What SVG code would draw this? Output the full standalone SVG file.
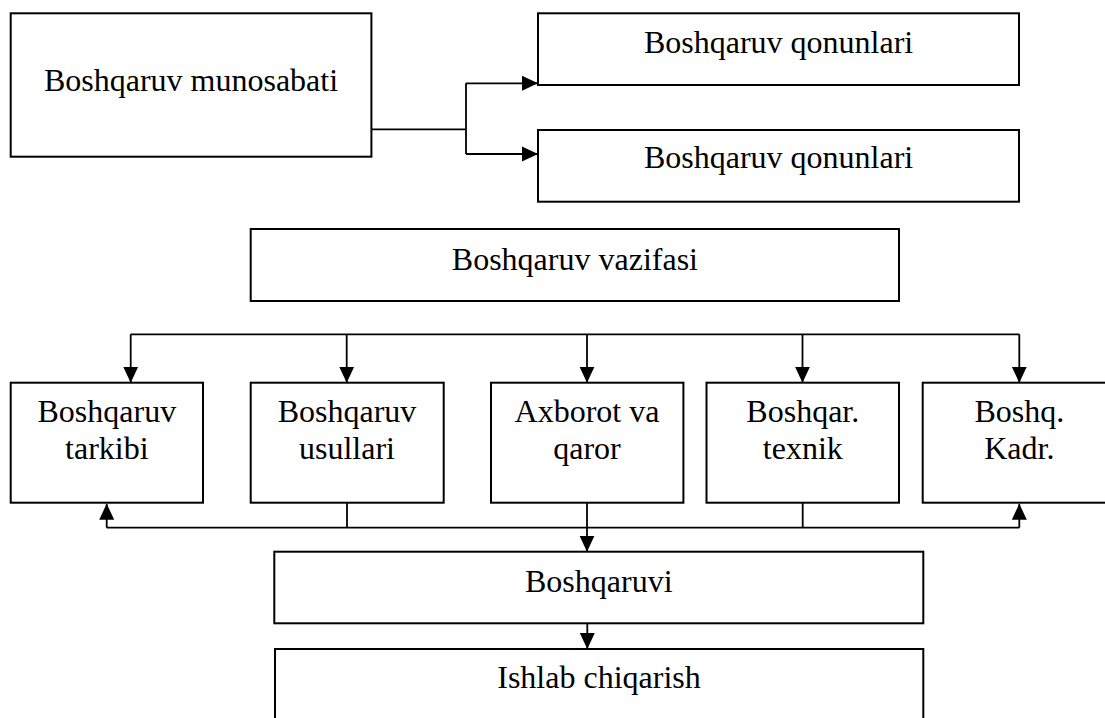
<svg xmlns="http://www.w3.org/2000/svg" width="1105" height="718" viewBox="0 0 1105 718">
<style>
  .box { fill: #ffffff; stroke: #000000; stroke-width: 2; }
  .lbl { font-family: 'Liberation Serif', 'DejaVu Serif', serif; font-size: 32px; fill: #000000; text-anchor: middle; }
  .con { fill: none; stroke: #000000; stroke-width: 1.8; }
</style>
<defs>
  <marker id="arr" viewBox="0 0 16 16" refX="16" refY="8" markerWidth="16" markerHeight="16" markerUnits="userSpaceOnUse" orient="auto">
    <path d="M0,0.5 L16,8 L0,15.5 z" fill="#000000"/>
  </marker>
</defs>
<rect width="1105" height="718" fill="#ffffff"/>

<g id="munosabati">
  <rect class="box" x="10.7" y="13.3" width="360.7" height="143.4"/>
  <text class="lbl" font-family="Liberation Serif, serif" x="191" y="90.7">Boshqaruv munosabati</text>
</g>
<g id="qonunlari1">
  <rect class="box" x="538" y="13.3" width="481" height="71.7"/>
  <text class="lbl" font-family="Liberation Serif, serif" x="778.6" y="53.3">Boshqaruv qonunlari</text>
</g>
<g id="qonunlari2">
  <rect class="box" x="538" y="130" width="481" height="71.7"/>
  <text class="lbl" font-family="Liberation Serif, serif" x="778.6" y="168.3">Boshqaruv qonunlari</text>
</g>
<g id="vazifasi">
  <rect class="box" x="250.7" y="229" width="648.3" height="72"/>
  <text class="lbl" font-family="Liberation Serif, serif" x="574.9" y="270">Boshqaruv vazifasi</text>
</g>
<g id="tarkibi">
  <rect class="box" x="10.7" y="382.7" width="192.3" height="120"/>
  <text class="lbl" font-family="Liberation Serif, serif" x="106.8" y="421.7">Boshqaruv</text>
  <text class="lbl" font-family="Liberation Serif, serif" x="106.8" y="459.3">tarkibi</text>
</g>
<g id="usullari">
  <rect class="box" x="250.7" y="382.7" width="193" height="120"/>
  <text class="lbl" font-family="Liberation Serif, serif" x="347" y="421.7">Boshqaruv</text>
  <text class="lbl" font-family="Liberation Serif, serif" x="347" y="459.3">usullari</text>
</g>
<g id="axborot">
  <rect class="box" x="491" y="382.7" width="192.4" height="120"/>
  <text class="lbl" font-family="Liberation Serif, serif" x="587" y="421.7">Axborot va</text>
  <text class="lbl" font-family="Liberation Serif, serif" x="587" y="459.3">qaror</text>
</g>
<g id="texnik">
  <rect class="box" x="706.5" y="382.7" width="192.5" height="120"/>
  <text class="lbl" font-family="Liberation Serif, serif" x="802.8" y="421.7">Boshqar.</text>
  <text class="lbl" font-family="Liberation Serif, serif" x="802.8" y="459.3">texnik</text>
</g>
<g id="kadr">
  <rect class="box" x="922.7" y="382.7" width="193" height="120"/>
  <text class="lbl" font-family="Liberation Serif, serif" x="1019.3" y="421.7">Boshq.</text>
  <text class="lbl" font-family="Liberation Serif, serif" x="1019.3" y="459.3">Kadr.</text>
</g>
<g id="boshqaruvi">
  <rect class="box" x="274.3" y="551.7" width="649" height="71.6"/>
  <text class="lbl" font-family="Liberation Serif, serif" x="598.8" y="591.7">Boshqaruvi</text>
</g>
<g id="ishlab">
  <rect class="box" x="275" y="649" width="648.3" height="90"/>
  <text class="lbl" font-family="Liberation Serif, serif" x="599" y="688.3">Ishlab chiqarish</text>
</g>

<g id="connectors">
  <path class="con" d="M371.4,129.3 H466 M466,83.3 V154"/>
  <path class="con" d="M466,83.3 H538" marker-end="url(#arr)"/>
  <path class="con" d="M466,154 H538" marker-end="url(#arr)"/>

  <path class="con" d="M130.7,334.3 H1019.3"/>
  <path class="con" d="M130.7,334.3 V382.7" marker-end="url(#arr)"/>
  <path class="con" d="M346.7,334.3 V382.7" marker-end="url(#arr)"/>
  <path class="con" d="M587,334.3 V382.7" marker-end="url(#arr)"/>
  <path class="con" d="M802.5,334.3 V382.7" marker-end="url(#arr)"/>
  <path class="con" d="M1019.3,334.3 V382.7" marker-end="url(#arr)"/>

  <path class="con" d="M106.7,527.7 H1019.3"/>
  <path class="con" d="M106.7,527.7 V503.7" marker-end="url(#arr)"/>
  <path class="con" d="M1019.3,527.7 V503.7" marker-end="url(#arr)"/>
  <path class="con" d="M347,502.7 V527.7"/>
  <path class="con" d="M802.7,502.7 V527.7"/>
  <path class="con" d="M587,502.7 V551.7" marker-end="url(#arr)"/>
  <path class="con" d="M587.3,623.3 V649" marker-end="url(#arr)"/>
</g>
</svg>
